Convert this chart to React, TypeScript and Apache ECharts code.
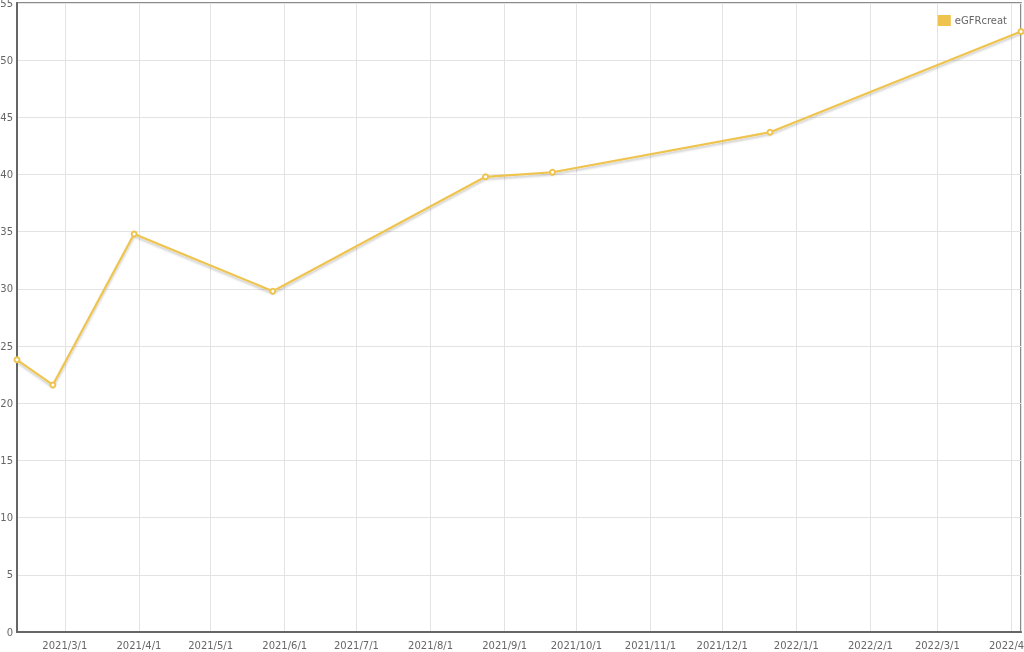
import React, { useEffect, useRef } from "react";
import * as echarts from "echarts";

const seriesName = "eGFRcreat";
const dates = [
  "2021-02-09",
  "2021-02-24",
  "2021-03-30",
  "2021-05-27",
  "2021-08-24",
  "2021-09-21",
  "2021-12-21",
  "2022-04-05",
];
const values = [23.8, 21.6, 34.8, 29.8, 39.8, 40.2, 43.7, 52.5];
const yTicks = { min: 0, max: 55, interval: 5 };

const lineColor = "#eec44f";
const font = "DejaVu Sans, Verdana, sans-serif";

export default function App() {
  const ref = useRef<HTMLDivElement>(null);
  useEffect(() => {
    if (!ref.current) return;
    const chart = echarts.init(ref.current, undefined, { renderer: "svg" });
    const toTs = (s: string) => {
      const [y, m, d] = s.split("-").map(Number);
      return new Date(y, m - 1, d).getTime();
    };
    const data = dates.map((d, i) => [toTs(d), values[i]]);
    const day = 86400000;
    chart.setOption({
      animation: false,
      textStyle: { fontFamily: font },
      legend: {
        data: [{ name: seriesName, icon: "rect" }],
        right: 12,
        top: 10,
        itemWidth: 11,
        itemHeight: 9,
        textStyle: { color: "#666", fontSize: 10, fontFamily: font },
      },
      grid: {
        left: 17,
        right: 3,
        top: 3,
        bottom: 20,
        containLabel: false,
        outerBoundsMode: "none",
        show: true,
        borderColor: "#666",
        borderWidth: 1.5,
      },
      xAxis: {
        type: "time",
        min: data[0][0],
        max: data[data.length - 1][0],
        minInterval: 28 * day,
        maxInterval: 31 * day,
        splitNumber: 14,
        axisLine: { show: true, lineStyle: { color: "#666", width: 2 } },
        axisTick: { show: false },
        axisLabel: {
          color: "#666",
          fontSize: 10,
          fontFamily: font,
          hideOverlap: false,
          formatter: (v: number) => {
            const d = new Date(v);
            return `${d.getFullYear()}/${d.getMonth() + 1}/${d.getDate()}`;
          },
        },
        splitLine: { show: true, lineStyle: { color: "#e3e3e3", width: 1 } },
      },
      yAxis: {
        type: "value",
        min: yTicks.min,
        max: yTicks.max,
        interval: yTicks.interval,
        axisLine: { show: true, lineStyle: { color: "#666", width: 2 } },
        axisTick: { show: false },
        axisLabel: { color: "#666", fontSize: 10, fontFamily: font, margin: 4 },
        splitLine: { show: true, lineStyle: { color: "#e3e3e3", width: 1 } },
      },
      series: [
        {
          name: seriesName,
          type: "line",
          data,
          symbol: "emptyCircle",
          symbolSize: 5,
          color: lineColor,
          lineStyle: {
            color: lineColor,
            width: 2.2,
            shadowColor: "rgba(0,0,0,0.22)",
            shadowBlur: 2,
            shadowOffsetY: 2,
          },
          itemStyle: { color: lineColor, borderColor: lineColor, borderWidth: 1.5 },
        },
      ],
    });
    return () => chart.dispose();
  }, []);
  return (
    <div
      ref={ref}
      style={{ position: "fixed", left: 0, top: 0, width: 1024, height: 652 }}
    />
  );
}
